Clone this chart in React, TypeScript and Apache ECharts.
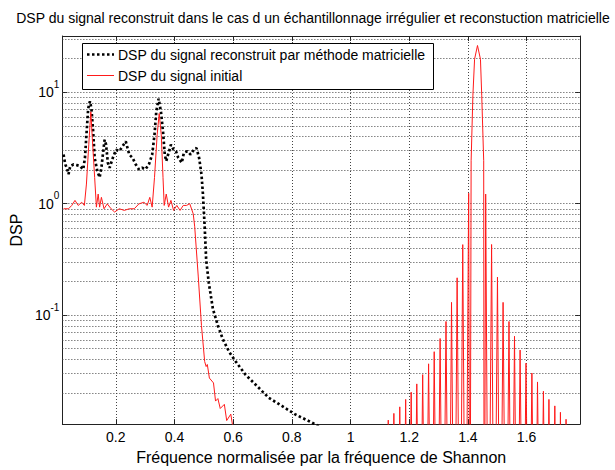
import React, { useEffect, useRef } from "react";
import * as echarts from "echarts";

// DSP du signal reconstruit par méthode matricielle (black dotted)
const reconFreq = [
  0.022, 0.028, 0.033, 0.039, 0.045, 0.056, 0.067, 0.078, 0.089, 0.095,
  0.1, 0.106, 0.112, 0.117, 0.123, 0.128, 0.137, 0.145, 0.151, 0.156,
  0.162, 0.167, 0.173, 0.179, 0.19, 0.201, 0.212, 0.223, 0.234, 0.246,
  0.257, 0.268, 0.279, 0.29, 0.301, 0.313, 0.324, 0.332, 0.338, 0.346,
  0.354, 0.361, 0.367, 0.372, 0.38, 0.388, 0.397, 0.405, 0.413, 0.425,
  0.432, 0.444, 0.455, 0.466, 0.475, 0.484, 0.492, 0.497, 0.503, 0.508,
  0.517, 0.531, 0.548, 0.564, 0.586, 0.609, 0.642, 0.676, 0.721, 0.766,
  0.81, 0.866, 0.9,
];
const reconDsp = [
  2.76, 2.25, 2.1, 1.84, 2.18, 2.25, 2.22, 2.18, 2.03, 2.58,
  4.15, 7.14, 8.29, 7.14, 4.44, 2.58, 1.97, 1.72, 2.1, 2.76,
  3.75, 3.38, 2.33, 2.1, 2.58, 3.05, 2.96, 3.27, 3.62, 2.76,
  2.58, 2.25, 2.03, 2.1, 2.03, 2.25, 2.76, 4.15, 6.68, 8.76,
  6.68, 4.44, 2.76, 2.41, 2.86, 3.38, 3.05, 2.96, 2.58, 2.33,
  2.86, 2.96, 2.76, 3.05, 3.16, 2.58, 1.84, 1.22, 0.62, 0.314,
  0.195, 0.1135, 0.0807, 0.0616, 0.0469, 0.0382, 0.0292, 0.0238, 0.0181, 0.0153,
  0.0129, 0.0109, 0.0098,
];

// DSP du signal initial (red), low-frequency part
const initLowFreq = [
  0.022, 0.039, 0.05, 0.061, 0.072, 0.084, 0.093, 0.1, 0.108, 0.115,
  0.12, 0.128, 0.134, 0.14, 0.145, 0.151, 0.16, 0.171, 0.184, 0.196,
  0.212, 0.229, 0.246, 0.263, 0.279, 0.296, 0.307, 0.316, 0.324, 0.332,
  0.341, 0.348, 0.355, 0.361, 0.365, 0.372, 0.38, 0.388, 0.397, 0.408,
  0.419, 0.43, 0.441, 0.452, 0.464, 0.469, 0.481, 0.492, 0.503, 0.508,
  0.512, 0.519, 0.533, 0.54, 0.548, 0.556, 0.57, 0.578, 0.592, 0.6,
  0.61,
];
const initLowDsp = [
  0.9, 0.9, 0.964, 1.07, 0.964, 1.03, 0.964, 1.5, 3.38, 6.68,
  3.88, 1.72, 0.931, 1.22, 0.931, 1.14, 0.9, 0.996, 0.9, 0.841,
  0.9, 0.87, 0.9, 0.9, 0.996, 1.03, 0.964, 1.14, 0.931, 1.72,
  4.15, 6.45, 4.15, 1.72, 0.964, 1.22, 0.931, 1.07, 0.87, 0.964,
  0.87, 0.964, 0.964, 1.0, 0.81, 0.62, 0.224, 0.0807, 0.0382, 0.0345,
  0.036, 0.0272, 0.0246, 0.0169, 0.0178, 0.0145, 0.0158, 0.0113, 0.0129, 0.0095,
  0.0001,
];

// DSP du signal initial (red), lobes around 1.43
const initHighFreq = [
  1.115, 1.1286, 1.138, 1.1477, 1.158, 1.1678, 1.178, 1.1879, 1.197, 1.2067,
  1.216, 1.2258, 1.236, 1.2459, 1.256, 1.266, 1.276, 1.2852, 1.295, 1.3053,
  1.315, 1.3254, 1.335, 1.3442, 1.354, 1.3633, 1.373, 1.3824, 1.392, 1.4026,
  1.407, 1.411, 1.417, 1.4227, 1.4327, 1.4428, 1.4471, 1.4538, 1.4555, 1.4606,
  1.47, 1.4807, 1.49, 1.5008, 1.51, 1.5199, 1.53, 1.54, 1.549, 1.5588,
  1.568, 1.5779, 1.588, 1.598, 1.608, 1.6181, 1.628, 1.6372, 1.647, 1.6573,
  1.667, 1.6761, 1.686, 1.6962, 1.706, 1.7153, 1.725, 1.7345, 1.744, 1.753,
  1.762,
];
const initHighDsp = [
  0.0001, 0.0114, 0.0001, 0.0131, 0.0001, 0.015, 0.0001, 0.0175, 0.0001, 0.0203,
  0.0001, 0.0241, 0.0001, 0.0292, 0.0001, 0.0365, 0.0001, 0.0469, 0.0001, 0.0616,
  0.0001, 0.0876, 0.0001, 0.13, 0.0001, 0.216, 0.0001, 0.429, 0.0001, 1.24,
  0.0001, 2.43, 9.4, 19.8, 26.3, 19.8, 9.4, 2.43, 0.0001, 1.22,
  0.0001, 0.43, 0.0001, 0.219, 0.0001, 0.13, 0.0001, 0.0876, 0.0001, 0.0645,
  0.0001, 0.0485, 0.0001, 0.037, 0.0001, 0.0302, 0.0001, 0.0251, 0.0001, 0.0207,
  0.0001, 0.0175, 0.0001, 0.0153, 0.0001, 0.0134, 0.0001, 0.0116, 0.0001, 0.0103,
  0.0001,
];

// horizontal grid lines of the log axis (decades and their multiples)
const gridValues = [
  0.02, 0.03, 0.04, 0.05, 0.06, 0.07, 0.08, 0.09, 0.1,
  0.2, 0.3, 0.4, 0.5, 0.6, 0.7, 0.8, 0.9, 1,
  2, 3, 4, 5, 6, 7, 8, 9, 10, 20, 30,
];

const titleText =
  "DSP du signal reconstruit dans le cas d un échantillonnage irrégulier et reconstuction matricielle";
const xName = "Fréquence normalisée par la fréquence de Shannon";
const yName = "DSP";
const reconName = "DSP du signal reconstruit par méthode matricielle";
const initName = "DSP du signal initial";

const X_MIN = 0.018;
const X_MAX = 1.782;
const Y_MIN = 0.0105;
const Y_MAX = 32;
const FONT = '"Liberation Sans", Arial, sans-serif';

const zip = (a: number[], b: number[]) => a.map((v, i) => [v, b[i]]);

export default function App() {
  const ref = useRef<HTMLDivElement>(null);
  useEffect(() => {
    if (!ref.current) return;
    const chart = echarts.init(ref.current, undefined, { renderer: "svg" });
    const gridStyle = { color: "#444", width: 1, type: [1, 2] as number[] };
    const isPow10 = (v: number) => {
      const e = Math.log10(v);
      return Math.abs(e - Math.round(e)) < 1e-6;
    };
    const legendText = (text: string, y: number) => ({
      type: "text",
      x: 118,
      y,
      z: 101,
      style: {
        text,
        fill: "#000",
        fontSize: 14,
        fontFamily: FONT,
        align: "left",
        verticalAlign: "middle",
      },
    });
    chart.setOption({
      animation: false,
      backgroundColor: "#fff",
      textStyle: { fontFamily: FONT },
      grid: { left: 54, right: 35, top: 36, bottom: 40, containLabel: false },
      graphic: [
        {
          type: "text",
          x: 313,
          y: 18,
          style: {
            text: titleText,
            fill: "#000",
            fontSize: 14,
            fontFamily: FONT,
            align: "center",
            verticalAlign: "middle",
          },
        },
        {
          type: "rect",
          z: 100,
          shape: { x: 82.5, y: 43.5, width: 351, height: 46 },
          style: { fill: "#fff", stroke: "#000", lineWidth: 1 },
        },
        {
          type: "line",
          z: 101,
          shape: { x1: 87, y1: 54.5, x2: 114, y2: 54.5 },
          style: { stroke: "#000", lineWidth: 2.7, lineDash: [2.5, 2.5] },
        },
        {
          type: "line",
          z: 101,
          shape: { x1: 87, y1: 75.5, x2: 114, y2: 75.5 },
          style: { stroke: "#ff1a1a", lineWidth: 1 },
        },
        legendText(reconName, 54.5),
        legendText(initName, 75.5),
      ],
      xAxis: [
        {
          type: "value",
          min: X_MIN,
          max: X_MAX,
          splitNumber: 9,
          name: xName,
          nameLocation: "middle",
          nameGap: 24,
          nameTextStyle: { fontSize: 16, color: "#000", fontFamily: FONT },
          axisLine: { show: true, lineStyle: { color: "#222", width: 1 } },
          axisTick: { show: true, inside: true, length: 5, lineStyle: { color: "#222" } },
          axisLabel: {
            fontSize: 14,
            color: "#000",
            margin: 6,
            fontFamily: FONT,
            formatter: (v: number) =>
              Math.abs(v * 5 - Math.round(v * 5)) < 1e-6 ? String(Math.round(v * 10) / 10) : "",
          },
          splitLine: { show: true, lineStyle: gridStyle },
        },
        {
          type: "value",
          position: "top",
          min: X_MIN,
          max: X_MAX,
          splitNumber: 9,
          axisLine: { show: true, lineStyle: { color: "#222", width: 1 } },
          axisTick: { show: true, inside: true, length: 5, lineStyle: { color: "#222" } },
          axisLabel: { show: false },
          splitLine: { show: false },
        },
      ],
      yAxis: [
        {
          type: "log",
          logBase: 10,
          min: Y_MIN,
          max: Y_MAX,
          name: yName,
          nameLocation: "middle",
          nameGap: 34,
          nameTextStyle: { fontSize: 16, color: "#000", fontFamily: FONT },
          axisLine: { show: true, lineStyle: { color: "#222", width: 1 } },
          axisTick: { show: true, inside: true, length: 5, lineStyle: { color: "#222" } },
          axisLabel: {
            color: "#000",
            margin: 3,
            formatter: (v: number) =>
              isPow10(v) ? `{b|10}{s|${Math.round(Math.log10(v))}}` : "",
            rich: {
              b: { fontSize: 14, fontFamily: FONT, color: "#000", lineHeight: 26 },
              s: { fontSize: 10, fontFamily: FONT, color: "#000", verticalAlign: "top", lineHeight: 11 },
            },
          },
          splitLine: { show: false },
        },
        {
          type: "log",
          logBase: 10,
          position: "right",
          min: Y_MIN,
          max: Y_MAX,
          axisLine: { show: true, lineStyle: { color: "#222", width: 1 } },
          axisTick: { show: true, inside: true, length: 5, lineStyle: { color: "#222" } },
          axisLabel: { show: false },
          splitLine: { show: false },
        },
      ],
      series: [
        {
          name: reconName,
          type: "line",
          xAxisIndex: 0,
          yAxisIndex: 0,
          data: zip(reconFreq, reconDsp),
          showSymbol: false,
          symbol: "none",
          clip: true,
          color: "#000",
          lineStyle: { color: "#000", width: 2.7, type: [2.5, 2.5], cap: "butt" },
          z: 3,
          markLine: {
            silent: true,
            symbol: ["none", "none"],
            label: { show: false },
            z: 1,
            lineStyle: gridStyle,
            emphasis: { disabled: true },
            data: gridValues.map((v) => ({ yAxis: v })),
          },
        },
        {
          name: initName,
          type: "line",
          xAxisIndex: 0,
          yAxisIndex: 0,
          data: zip(initLowFreq, initLowDsp).concat(zip(initHighFreq, initHighDsp)),
          showSymbol: false,
          symbol: "none",
          clip: true,
          color: "#ff0000",
          lineStyle: { color: "#ff1a1a", width: 1 },
          z: 4,
        },
      ],
    });
    return () => chart.dispose();
  }, []);
  return (
    <div
      ref={ref}
      style={{ position: "absolute", left: 0, top: 0, width: 615, height: 470 }}
    />
  );
}
